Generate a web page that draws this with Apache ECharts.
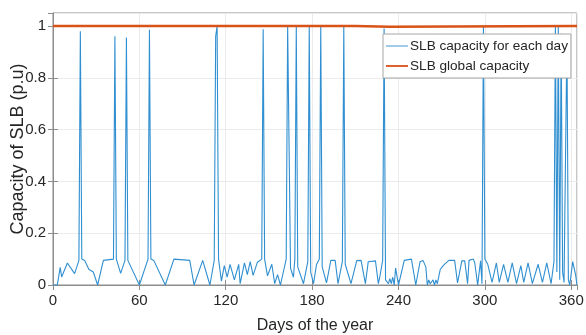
<!DOCTYPE html>
<html>
<head>
<meta charset="utf-8">
<script src="https://cdn.jsdelivr.net/npm/echarts@6/dist/echarts.min.js"></script>
<style>html,body{margin:0;padding:0;background:#fff}#c{width:586px;height:335px}</style>
</head>
<body>
<div id="c"></div>
<script>
// Day of year and SLB capacity (p.u)
var dailyCapacity = [
[0,0],[3,0],[5,0.068],[6,0.031],[10,0.085],[15,0.044],[18,0.095],[19,0.98],[20,0.1],[22,0.095],[25,0.06],[28,0.05],[31,0],
[35,0.095],[42,0.1],[43,0.96],[44,0.1],[47,0.045],[50,0.095],[51,0.955],[52,0.095],[60,0],[66,0.1],[67,0.985],[68,0.1],[70,0.095],
[78,0],[84,0.1],[95,0.095],[98,0],[104,0.095],[109,0],[112,0.095],[113,0.96],[114,1.0],[115,0.1],[117,0.015],[119,0.075],[121,0.03],
[123,0.08],[126,0.02],[129,0.08],[130,0.005],[133,0.085],[135,0.04],[137,0.09],[139,0.037],[142,0.088],[145,0.1],[146,0.987],[147,0.1],
[149,0.035],[152,0.08],[154,0.005],[156,0.04],[158,0],[162,0.1],[163,1.0],[165,0.065],[167,0.03],[168,0.1],[169,1.0],[170,0.07],
[174,0.005],[177,0.09],[178,1.0],[179,0.05],[181,0.005],[183,0.078],[185,0.1],[186,1.0],[187,0.07],[190,0.008],[193,0.095],[196,0.095],
[198,0.005],[201,0.09],[202,1.0],[203,0.08],[207,0.005],[211,0.094],[214,0.095],[217,0.005],[219,0.09],[224,0.093],[226,0.005],
[227,0.03],[229,0.095],[230,0.99],[231,0.02],[233,0.005],[234,0.025],[235,0.005],[236,0.03],[237,0.0],[238,0.065],[240,0],
[244,0.095],[249,0.1],[252,0],[255,0.09],[257,0.095],[259,0.07],[260,0],[261,0.02],[262,0.005],[264,0.02],[265,0],[266,0.02],
[267,0.005],[269,0.06],[271,0.075],[275,0.095],[279,0.095],[281,0.008],[284,0.093],[286,0.093],[288,0.005],[289,0.095],[292,0.1],
[293,0.085],[295,0],[297,0.093],[298,0.005],[299,1.0],[300,0.1],[302,0.08],[305,0.01],[308,0.085],[310,0.01],[313,0.08],[316,0.01],
[319,0.085],[322,0.005],[325,0.075],[327,0.01],[330,0.085],[333,0.005],[337,0.08],[340,0.01],[343,0.085],[346,0.005],[348,0.09],
[349,1.0],[350,0.05],[351,1.0],[352,0.02],[353,0.97],[354,0.05],[355,0.01],[357,0.95],[358,0.02],[359,0],[361,0.09],[363,0.04],[364,0.0]
];
var globalCapacity = [[0,1.0],[210,1.0],[210,0.997],[234,0.997],[234,1.0],[364,1.0]];
var xTicks = [0,60,120,180,240,300,360];
var yTicks = [0,0.2,0.4,0.6,0.8,1];
var seriesNames = ['SLB capacity for each day','SLB global capacity'];

var font = 'Liberation Sans, Arial, sans-serif';
var txt = '#262626';
var axisCol = '#8c8c8c';
var chart = echarts.init(document.getElementById('c'), null, {renderer:'canvas'});
function tickFmtX(v){ return xTicks.indexOf(v) >= 0 ? String(v) : ''; }
function tickFmtY(v){ var r = Math.round(v*100)/100; return yTicks.indexOf(r) >= 0 ? String(r) : ''; }
chart.setOption({
  animation:false,
  backgroundColor:'#fff',
  grid:{left:53,right:9,top:13,bottom:50,show:true,borderColor:axisCol,borderWidth:1,containLabel:false,outerBoundsMode:'none'},
  legend:{
    orient:'vertical', left:383, top:34,
    backgroundColor:'#fff', borderColor:'#a6a6a6', borderWidth:1,
    padding:[5,3,5,3], itemGap:6, itemWidth:22, itemHeight:10,
    textStyle:{fontFamily:font,fontSize:13.6,color:txt,padding:[0,0,0,-3]},
    data:[{name:seriesNames[0],icon:'path://M0,5L24,5L24,6L0,6Z'},{name:seriesNames[1],icon:'path://M0,4.5L24,4.5L24,6.5L0,6.5Z'}]
  },
  xAxis:[{
    type:'value', min:0, max:364, interval:60,
    name:'Days of the year', nameLocation:'middle', nameGap:33,
    nameTextStyle:{fontFamily:font,fontSize:16,color:txt},
    axisLine:{show:true,lineStyle:{color:axisCol}},
    axisTick:{show:true,inside:true,length:5,lineStyle:{color:axisCol}},
    axisLabel:{fontFamily:font,fontSize:15,color:txt,margin:8,formatter:tickFmtX,showMaxLabel:false},
    splitLine:{show:true,lineStyle:{color:'#ebebeb'}}
  },{
    type:'value', min:0, max:364, interval:60, position:'top',
    axisLine:{show:false}, axisLabel:{show:false}, splitLine:{show:false},
    axisTick:{show:true,inside:true,length:5,lineStyle:{color:axisCol}}
  }],
  yAxis:[{
    type:'value', min:0, max:1.05, interval:0.2,
    name:'Capacity of SLB (p.u)', nameLocation:'middle', nameGap:26, nameMoveOverlap:false,
    nameTextStyle:{fontFamily:font,fontSize:18,color:txt},
    axisLine:{show:true,lineStyle:{color:axisCol}},
    axisTick:{show:true,inside:true,length:5,lineStyle:{color:axisCol}},
    axisLabel:{fontFamily:font,fontSize:15,color:txt,margin:7,formatter:tickFmtY,showMaxLabel:false},
    splitLine:{show:true,lineStyle:{color:'#ebebeb'}}
  },{
    type:'value', min:0, max:1.05, interval:0.2, position:'right',
    axisLine:{show:false}, axisLabel:{show:false}, splitLine:{show:false},
    axisTick:{show:true,inside:true,length:5,lineStyle:{color:axisCol}}
  }],
  series:[{
    name:seriesNames[0], type:'line', data:dailyCapacity, symbol:'none', showSymbol:false,
    itemStyle:{color:'#2f8fd0'}, lineStyle:{color:'#2f8fd0',width:1.1}, z:2
  },{
    name:seriesNames[1], type:'line', data:globalCapacity, symbol:'none', showSymbol:false,
    itemStyle:{color:'#d95319'}, lineStyle:{color:'#d95319',width:2.4}, z:3
  }]
});
</script>
</body>
</html>
